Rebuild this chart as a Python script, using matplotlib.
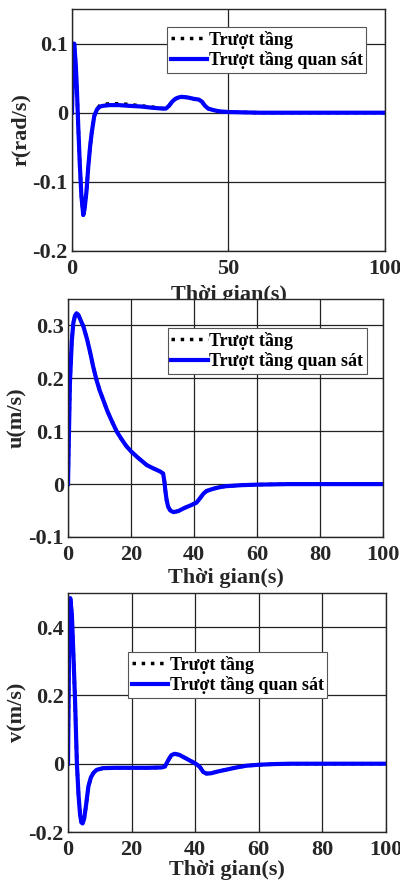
import numpy as np
import matplotlib
matplotlib.use("Agg")
import matplotlib.pyplot as plt

plt.rcParams['font.family'] = ['Liberation Serif', 'DejaVu Serif']
plt.rcParams['font.weight'] = 'bold'
plt.rcParams['axes.unicode_minus'] = False

# --- r(rad/s) ---
t_r = [0, 0.3, 0.7, 1.2, 1.6, 2.0, 2.5, 3.0, 3.6, 4.0, 4.6, 5.2, 5.8, 6.3, 7.1, 8.0, 9.0,
       10, 12, 15, 18, 22, 26, 29, 30, 31, 32, 33, 34, 35, 37, 39, 40.5, 41.5, 42.5,
       43.5, 45, 47, 50, 55, 60, 70, 80, 90, 100]
r_obs = [0, 0.06, 0.1, 0.07, 0.03, -0.02, -0.075, -0.12, -0.148, -0.14, -0.115, -0.078,
         -0.048, -0.029, -0.005, 0.005, 0.009, 0.010, 0.011, 0.011, 0.010, 0.009, 0.007,
         0.006, 0.006, 0.010, 0.016, 0.020, 0.022, 0.023, 0.022, 0.020, 0.019, 0.016,
         0.010, 0.006, 0.004, 0.002, 0.001, 0.0005, 0, 0, 0, 0, 0]
r_ref = [0, 0.06, 0.1, 0.07, 0.03, -0.02, -0.075, -0.12, -0.148, -0.14, -0.115, -0.078,
         -0.048, -0.029, -0.005, 0.006, 0.011, 0.012, 0.013, 0.013, 0.012, 0.010, 0.008,
         0.006, 0.006, 0.010, 0.016, 0.020, 0.022, 0.023, 0.022, 0.020, 0.019, 0.016,
         0.010, 0.006, 0.004, 0.002, 0.001, 0.0005, 0, 0, 0, 0, 0]

# --- u(m/s) ---
t_u = [0, 0.6, 1.2, 1.7, 2.2, 2.7, 3.3, 4.0, 4.9, 6, 7, 8, 9, 10, 11.2, 12.5, 14, 15.5,
       17, 18.5, 20, 22, 25, 27, 29.2, 30.2, 30.6, 30.9, 31.3, 31.8, 32.5, 33.5, 35, 37,
       39, 40.8, 42, 43, 44, 46, 48, 50, 55, 60, 70, 80, 90, 100]
u_obs = [0, 0.19, 0.27, 0.305, 0.318, 0.323, 0.32, 0.31, 0.298, 0.275, 0.25, 0.222,
         0.198, 0.178, 0.159, 0.138, 0.118, 0.099, 0.085, 0.072, 0.062, 0.051, 0.036,
         0.030, 0.024, 0.020, 0.005, -0.012, -0.030, -0.043, -0.050, -0.053, -0.051,
         -0.045, -0.040, -0.035, -0.026, -0.018, -0.013, -0.009, -0.006, -0.004, -0.002,
         -0.001, 0, 0, 0, 0]
u_ref = list(u_obs)

# --- v(m/s) ---
t_v = [0, 0.3, 0.7, 1.2, 1.7, 2.2, 2.8, 3.3, 3.8, 4.2, 4.6, 5.1, 5.7, 6.4, 7.2, 8, 9,
       11, 15, 20, 25, 29.5, 30.5, 31.5, 32.5, 33.5, 35, 37, 39, 40.5, 41.5, 42.5, 43.5,
       45, 47, 50, 53, 56, 60, 65, 70, 80, 90, 100]
v_obs = [0, 0.3, 0.485, 0.44, 0.32, 0.19, 0.0, -0.09, -0.15, -0.172, -0.175, -0.16,
         -0.12, -0.067, -0.04, -0.027, -0.018, -0.013, -0.012, -0.012, -0.012, -0.011,
         -0.008, 0.010, 0.025, 0.029, 0.026, 0.016, 0.006, -0.002, -0.010, -0.024,
         -0.029, -0.028, -0.023, -0.017, -0.011, -0.006, -0.003, -0.001, 0, 0, 0, 0]
v_ref = list(v_obs)

panels = [
    dict(t=t_r, ref=r_ref, obs=r_obs, ylabel='r(rad/s)', ylim=(-0.2, 0.15),
         yticks=[-0.2, -0.1, 0, 0.1], ylabels=['-0.2', '-0.1', '0', '0.1'],
         xticks=[0, 50, 100], rect=[72, 9, 385, 251], leg=(0.3035, 0.926), lp=4),
    dict(t=t_u, ref=u_ref, obs=u_obs, ylabel='u(m/s)', ylim=(-0.1, 0.35),
         yticks=[-0.1, 0, 0.1, 0.2, 0.3], ylabels=['-0.1', '0', '0.1', '0.2', '0.3'],
         xticks=[0, 20, 40, 60, 80, 100], rect=[68, 299, 383, 537], leg=(0.317, 0.878),
         lp=2),
    dict(t=t_v, ref=v_ref, obs=v_obs, ylabel='v(m/s)', ylim=(-0.2, 0.5),
         yticks=[-0.2, 0, 0.2, 0.4], ylabels=['-0.2', '0', '0.2', '0.4'],
         xticks=[0, 20, 40, 60, 80, 100], rect=[68, 593, 386, 832], leg=(0.189, 0.753),
         lp=0),
]

W, H = 400, 884
fig = plt.figure(figsize=(W / 100, H / 100), dpi=100)

for p in panels:
    x0, y0, x1, y1 = p['rect']
    ax = fig.add_axes([x0 / W, 1 - y1 / H, (x1 - x0) / W, (y1 - y0) / H])
    ax.plot(p['t'], p['ref'], color='black', linestyle=':', linewidth=2.5,
            label='Trượt tầng')
    ax.plot(p['t'], p['obs'], color='#0000ff', linewidth=3,
            label='Trượt tầng quan sát')
    ax.set_xlim(0, 100)
    ax.set_ylim(*p['ylim'])
    ax.set_xticks(p['xticks'])
    ax.set_xticklabels([str(x) for x in p['xticks']])
    ax.set_yticks(p['yticks'])
    ax.set_yticklabels(p['ylabels'])
    ax.tick_params(direction='in', length=3, labelsize=16, colors='#262626')
    ax.tick_params(axis='x', pad=6)
    ax.tick_params(axis='y', pad=3)
    ax.grid(True, color='#222222', linewidth=0.9)
    for s in ax.spines.values():
        s.set_color('#262626')
        s.set_linewidth(1.0)
    ax.set_xlabel('Thời gian(s)', fontsize=16, fontweight='bold', color='#262626',
                  labelpad=p['lp'])
    ax.set_ylabel(p['ylabel'], fontsize=16, fontweight='bold', color='#262626',
                  labelpad=1)
    leg = ax.legend(loc='upper left', bbox_to_anchor=p['leg'], borderaxespad=0,
                    fancybox=False, framealpha=1, edgecolor='#555555',
                    prop={'size': 13, 'weight': 'bold'}, handlelength=2.0,
                    handletextpad=0.1, borderpad=0.2, labelspacing=0.15)
    leg.get_frame().set_linewidth(0.8)

fig.savefig('out.png', dpi=100)
